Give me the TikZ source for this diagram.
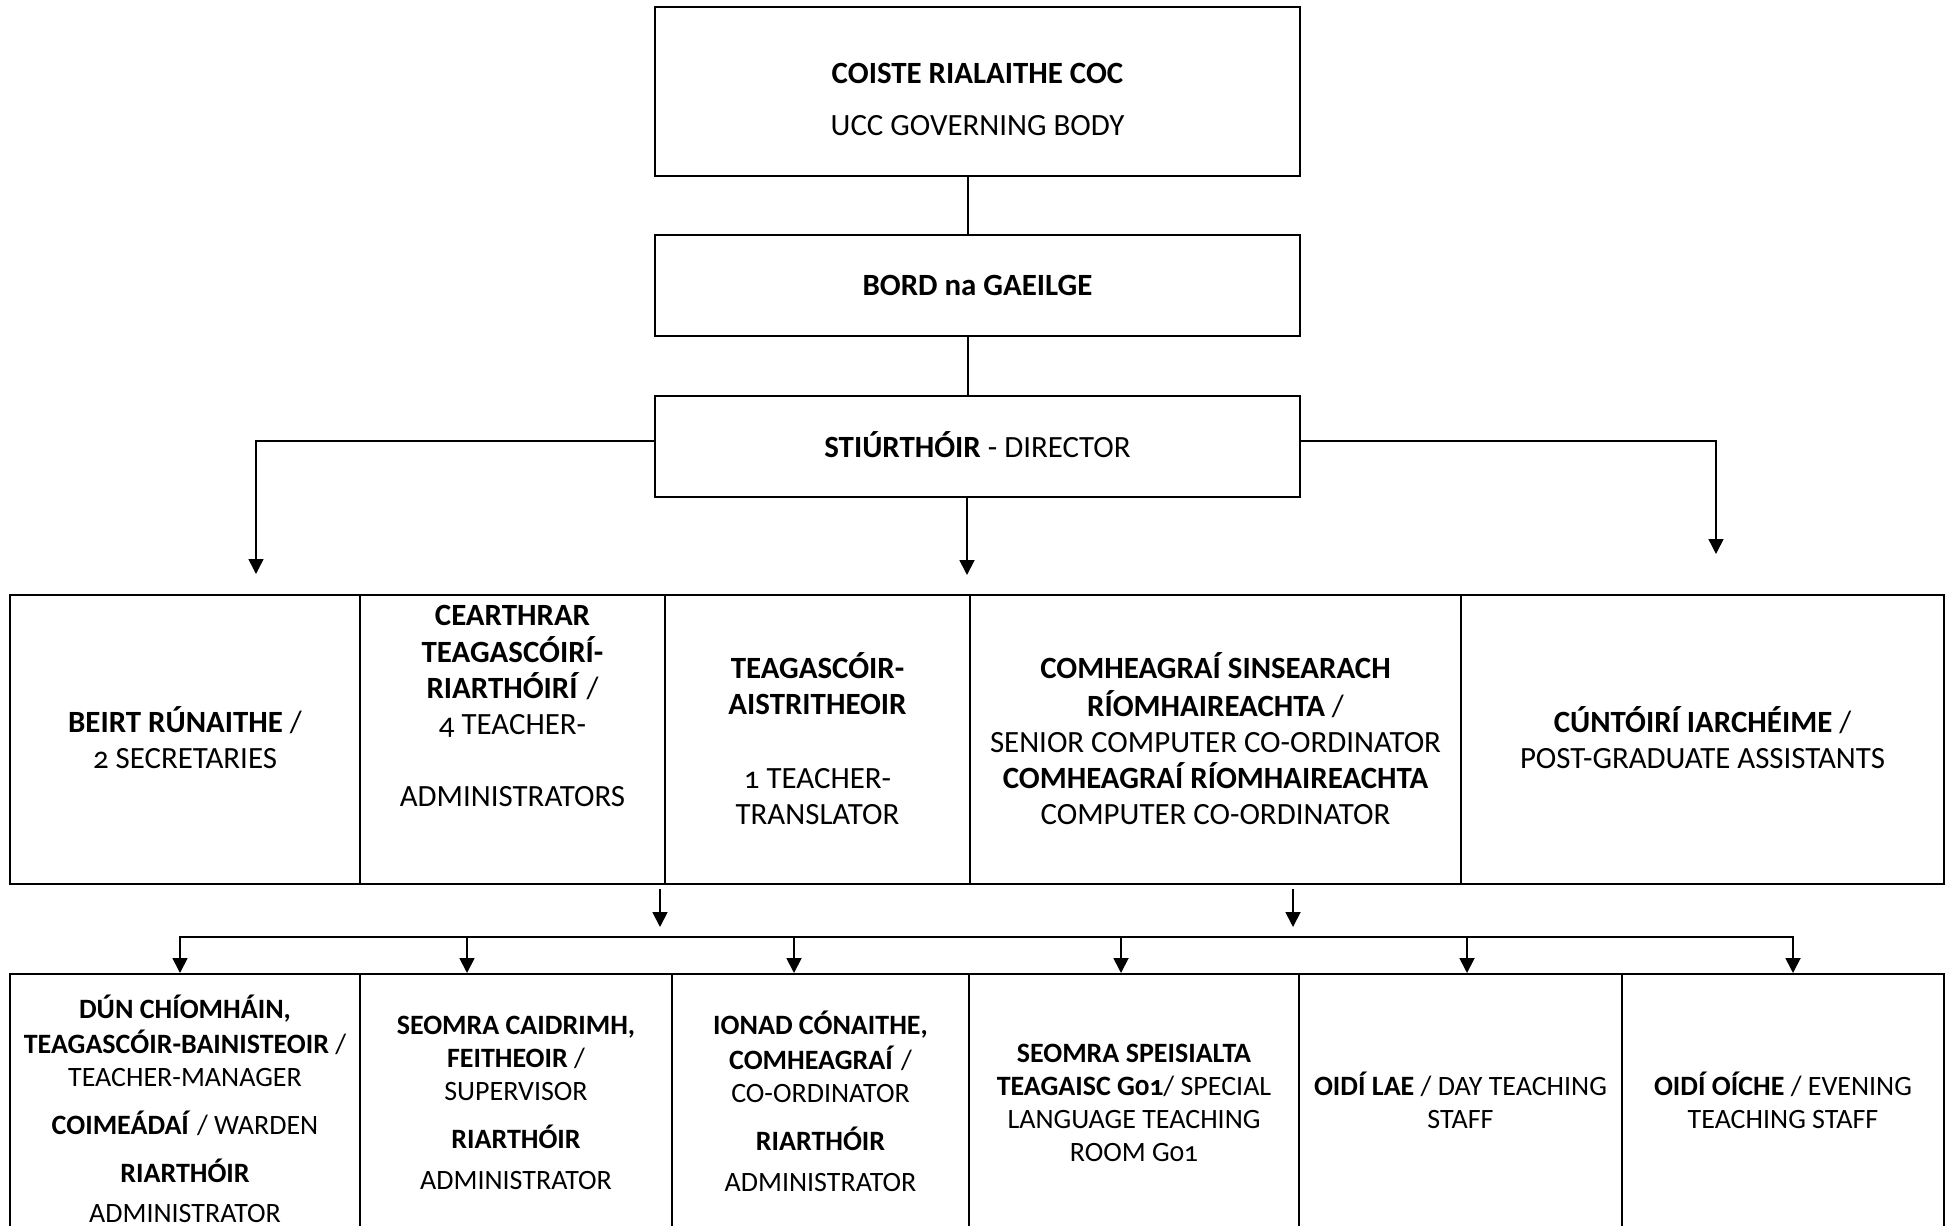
\documentclass[tikz,border=0pt]{standalone}
\usepackage{fontspec}
\setmainfont{Carlito}[Numbers=OldStyle]
\usetikzlibrary{arrows.meta}
\begin{document}
\begin{tikzpicture}[x=1pt,y=-1pt,
  box/.style={draw, line width=2pt, rectangle, inner sep=0pt},
  txtA/.style={inner sep=0pt, anchor=north, align=center, font=\fontsize{30.9}{36}\selectfont},
  txtB/.style={inner sep=0pt, anchor=north, align=center, font=\fontsize{28}{33}\selectfont},
  txtS/.style={inner sep=0pt, anchor=base, font=\fontsize{30.9}{36}\selectfont},
  conn/.style={line width=1.8pt},
  arr/.style={line width=1.8pt, -{Triangle[width=15pt,length=15pt]}},
  arrthin/.style={line width=1.5pt, -{Triangle[width=15pt,length=15pt]}},
]
\useasboundingbox (0,0) rectangle (1949,1226);
\fill[white] (0,0) rectangle (1949,1226);
\clip (0,0) rectangle (1949,1226);

% top boxes
\node[box, minimum width=645pt, minimum height=169pt] (top) at (977.5,91.5) {};
\node[box, minimum width=645pt, minimum height=101pt] (bord) at (977.5,285.5) {};
\node[box, minimum width=645pt, minimum height=101pt] (dir) at (977.5,446.5) {};

\node[txtS] (t-top1) at (977.5,83) {\textbf{COISTE RIALAITHE COC}};
\node[txtS] (t-top2) at (977.5,135) {UCC GOVERNING BODY};
\node[txtS] (t-bord) at (977.5,295) {\textbf{BORD na GAEILGE}};
\node[txtS] (t-dir) at (977.5,457) {\textbf{STIÚRTHÓIR} - DIRECTOR};

% middle row
\node[box, minimum width=350pt, minimum height=289pt] (m1) at (185,739.5) {};
\node[box, minimum width=305pt, minimum height=289pt] (m2) at (512.5,739.5) {};
\node[box, minimum width=305pt, minimum height=289pt] (m3) at (817.5,739.5) {};
\node[box, minimum width=491pt, minimum height=289pt] (m4) at (1215.5,739.5) {};
\node[box, minimum width=483pt, minimum height=289pt] (m5) at (1702.5,739.5) {};

\node[txtA] (t-m1) at (185,706.8) {\strut\textbf{BEIRT RÚNAITHE} /\\ 2 SECRETARIES};
\node[txtA] (t-m2) at (512.5,599.8) {\strut\textbf{CEARTHRAR}\\ \textbf{TEAGASCÓIRÍ-}\\ \textbf{RIARTHÓIRÍ} /\\ 4 TEACHER-\\[36pt] ADMINISTRATORS};
\node[txtA] (t-m3) at (817.5,652.8) {\strut\textbf{TEAGASCÓIR-}\\ \textbf{AISTRITHEOIR}\\[38pt] 1 TEACHER-\\ TRANSLATOR};
\node[txtA] (t-m4) at (1215.5,652.8) {\strut\textbf{COMHEAGRAÍ SINSEARACH}\\ \textbf{RÍOMHAIREACHTA} /\\ SENIOR COMPUTER CO-ORDINATOR\\ \textbf{COMHEAGRAÍ RÍOMHAIREACHTA}\\ COMPUTER CO-ORDINATOR};
\node[txtA] (t-m5) at (1702.5,706.8) {\strut\textbf{CÚNTÓIRÍ IARCHÉIME} /\\ POST-GRADUATE ASSISTANTS};

% bottom row
\node[box, minimum width=350pt, minimum height=286pt] (b1) at (185,1117) {};
\node[box, minimum width=312pt, minimum height=286pt] (b2) at (516,1117) {};
\node[box, minimum width=297pt, minimum height=286pt] (b3) at (820.5,1117) {};
\node[box, minimum width=330pt, minimum height=286pt] (b4) at (1134,1117) {};
\node[box, minimum width=323pt, minimum height=286pt] (b5) at (1460.5,1117) {};
\node[box, minimum width=322pt, minimum height=286pt] (b6) at (1783,1117) {};

\node[txtB] (t-b1) at (185,994.9) {\strut\textbf{DÚN CHÍOMHÁIN,}\\ \textbf{TEAGASCÓIR-BAINISTEOIR} /\\ TEACHER-MANAGER\\[15pt] \textbf{COIMEÁDAÍ} / WARDEN\\[15pt] \textbf{RIARTHÓIR}\\[7pt] ADMINISTRATOR};
\node[txtB] (t-b2) at (516,1010.9) {\strut\textbf{SEOMRA CAIDRIMH,}\\ \textbf{FEITHEOIR} /\\ SUPERVISOR\\[15pt] \textbf{RIARTHÓIR}\\[8pt] ADMINISTRATOR};
\node[txtB] (t-b3) at (820.5,1010.9) {\strut\textbf{IONAD CÓNAITHE,}\\ \textbf{COMHEAGRAÍ} /\\ CO-ORDINATOR\\[15pt] \textbf{RIARTHÓIR}\\[8pt] ADMINISTRATOR};
\node[txtB] (t-b4) at (1134,1038.9) {\strut\textbf{SEOMRA SPEISIALTA}\\ \textbf{TEAGAISC G01}/ SPECIAL\\ LANGUAGE TEACHING\\ ROOM G01};
\node[txtB] (t-b5) at (1460.5,1071.9) {\strut\textbf{OIDÍ LAE} / DAY TEACHING\\ STAFF};
\node[txtB] (t-b6) at (1783,1071.9) {\strut\textbf{OIDÍ OÍCHE} / EVENING\\ TEACHING STAFF};

% connectors
\coordinate (cx) at (968,0);
\draw[conn] (top.south -| cx) -- (bord.north -| cx);
\draw[conn] (bord.south -| cx) -- (dir.north -| cx);

\coordinate (dl) at (256,441);
\coordinate (dlEnd) at (256,574);
\coordinate (dr) at (1716,441);
\coordinate (drEnd) at (1716,554);
\coordinate (dcEnd) at (967,575);
\draw[arrthin] (dir.west |- dl) -- (dl) -- (dlEnd);
\draw[arrthin] (dir.east |- dr) -- (dr) -- (drEnd);
\draw[arr] (dir.south -| dcEnd) -- (dcEnd);

\coordinate (ma1) at (660,889);
\coordinate (ma1e) at (660,927);
\coordinate (ma2) at (1293,889);
\coordinate (ma2e) at (1293,927);
\draw[arr] (ma1) -- (ma1e);
\draw[arr] (ma2) -- (ma2e);

\coordinate (bx1) at (180,937);
\coordinate (bx2) at (467,937);
\coordinate (bx3) at (794,937);
\coordinate (bx4) at (1121,937);
\coordinate (bx5) at (1467,937);
\coordinate (bx6) at (1793,937);
\draw[conn, line cap=rect] (bx1) -- (bx6);
\draw[arr] (bx1) -- (b1.north -| bx1);
\draw[arr] (bx2) -- (b2.north -| bx2);
\draw[arr] (bx3) -- (b3.north -| bx3);
\draw[arr] (bx4) -- (b4.north -| bx4);
\draw[arr] (bx5) -- (b5.north -| bx5);
\draw[arr] (bx6) -- (b6.north -| bx6);
\end{tikzpicture}
\end{document}
